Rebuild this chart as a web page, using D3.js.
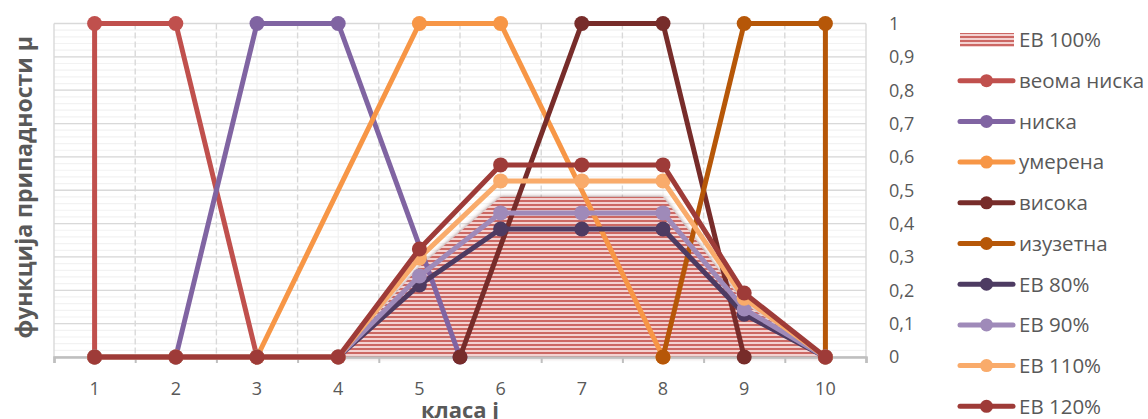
<!DOCTYPE html>
<html>
<head>
<meta charset="utf-8">
<script src="https://cdn.jsdelivr.net/npm/d3@7"></script>
<style>
  body { margin: 0; background: #fff; }
  svg text { font-family: "Open Sans", sans-serif; fill: #595959; }
</style>
</head>
<body>
<div id="chart"></div>
<script>
// classes on the x axis
var classes = [1, 2, 3, 4, 5, 6, 7, 8, 9, 10];
var xTickLabels = ["1", "2", "3", "4", "5", "6", "7", "8", "9", "10"];
var yTickLabels = ["0", "0,1", "0,2", "0,3", "0,4", "0,5", "0,6", "0,7", "0,8", "0,9", "1"];

// expected values (EB) for every class
var ev100 = [0, 0, 0, 0, 0.27, 0.48, 0.48, 0.48, 0.16, 0];
var ev80 = [0, 0, 0, 0, 0.216, 0.384, 0.384, 0.384, 0.128, 0];
var ev90 = [0, 0, 0, 0, 0.243, 0.432, 0.432, 0.432, 0.144, 0];
var ev110 = [0, 0, 0, 0, 0.297, 0.528, 0.528, 0.528, 0.176, 0];
var ev120 = [0, 0, 0, 0, 0.324, 0.576, 0.576, 0.576, 0.192, 0];

// membership functions (x, mu)
var veomaNiskaX = [1, 1, 2, 3];
var veomaNiskaY = [0, 1, 1, 0];
var niskaX = [2, 3, 4, 5.5];
var niskaY = [0, 1, 1, 0];
var umerenaX = [3, 5, 6, 8];
var umerenaY = [0, 1, 1, 0];
var visokaX = [5.5, 7, 8, 9];
var visokaY = [0, 1, 1, 0];
var izuzetnaX = [8, 9, 10, 10];
var izuzetnaY = [0, 1, 1, 0];

var width = 1148, height = 419;
var plot = { left: 54, right: 866, top: 23.5, bottom: 357 };

var svg = d3.select("#chart").append("svg")
  .attr("width", width)
  .attr("height", height);

var defs = svg.append("defs");
var pat = defs.append("pattern")
  .attr("id", "stripes")
  .attr("patternUnits", "userSpaceOnUse")
  .attr("width", 8)
  .attr("height", 4);
pat.append("rect").attr("width", 8).attr("height", 4).attr("fill", "#F3D2D1");
pat.append("rect").attr("width", 8).attr("height", 2).attr("fill", "#CC6764");

var shadow = defs.append("filter").attr("id", "shade")
  .attr("x", "-10%").attr("y", "-10%").attr("width", "120%").attr("height", "120%");
shadow.append("feDropShadow")
  .attr("dx", 0).attr("dy", 0).attr("stdDeviation", 2)
  .attr("flood-color", "#6b3030").attr("flood-opacity", 0.7);

var x = d3.scaleLinear().domain([0.5, 10.5]).range([plot.left, plot.right]);
var y = d3.scaleLinear().domain([0, 1]).range([plot.bottom, plot.top]);

// gridlines
var grid = svg.append("g");
grid.selectAll(".hminor")
  .data(d3.range(0, 51).map(function (i) { return i / 50; }))
  .enter().append("line")
  .attr("x1", plot.left).attr("x2", plot.right)
  .attr("y1", function (d) { return y(d); })
  .attr("y2", function (d) { return y(d); })
  .attr("stroke", "#F2F2F2").attr("stroke-width", 1.2);
grid.selectAll(".vminor")
  .data(classes)
  .enter().append("line")
  .attr("x1", function (d) { return x(d); })
  .attr("x2", function (d) { return x(d); })
  .attr("y1", plot.top).attr("y2", plot.bottom)
  .attr("stroke", "#F2F2F2").attr("stroke-width", 1.2);
grid.selectAll(".hmajor")
  .data(d3.range(0, 11).map(function (i) { return i / 10; }))
  .enter().append("line")
  .attr("x1", plot.left).attr("x2", plot.right)
  .attr("y1", function (d) { return y(d); })
  .attr("y2", function (d) { return y(d); })
  .attr("stroke", "#D9D9D9").attr("stroke-width", 1.3);
var halfTicks = d3.range(0, 11).map(function (i) { return i + 0.5; });
grid.selectAll(".vmajor")
  .data(halfTicks)
  .enter().append("line")
  .attr("x1", function (d) { return x(d); })
  .attr("x2", function (d) { return x(d); })
  .attr("y1", plot.top).attr("y2", plot.bottom)
  .attr("stroke", "#D9D9D9").attr("stroke-width", 1.4)
  .attr("stroke-dasharray", function (d) { return (d == 0.5 || d == 10.5) ? null : "6,3"; });

// EB 100% area
var area = d3.area()
  .x(function (d) { return x(d[0]); })
  .y0(y(0))
  .y1(function (d) { return y(d[1]); });
svg.append("path")
  .datum(d3.zip(classes, ev100))
  .attr("d", area)
  .attr("fill", "url(#stripes)")
  .attr("filter", "url(#shade)");

// x axis
var xAxis = svg.append("g")
  .attr("transform", "translate(0," + plot.bottom + ")")
  .call(d3.axisBottom(x).tickValues(halfTicks).tickSize(6).tickFormat(""));
xAxis.select(".domain").attr("stroke", "#BFBFBF").attr("stroke-width", 2.5);
xAxis.selectAll(".tick line").attr("stroke", "#BFBFBF").attr("stroke-width", 2);

svg.append("g").selectAll("text")
  .data(classes)
  .enter().append("text")
  .attr("x", function (d) { return x(d); })
  .attr("y", 395)
  .attr("text-anchor", "middle")
  .style("font-size", "18px")
  .text(function (d, i) { return xTickLabels[i]; });

// right y axis labels
svg.append("g").selectAll("text")
  .data(yTickLabels)
  .enter().append("text")
  .attr("x", 889)
  .attr("y", function (d, i) { return y(i / 10); })
  .attr("dy", "0.36em")
  .style("font-size", "18px")
  .text(function (d) { return d; });

// axis titles
svg.append("text")
  .attr("transform", "translate(32," + ((plot.top + plot.bottom) / 2 - 3) + ") rotate(-90)")
  .attr("text-anchor", "middle")
  .style("font-size", "23px")
  .style("font-weight", "bold")
  .text("функција припадности μ");

svg.append("text")
  .attr("x", (plot.left + plot.right) / 2)
  .attr("y", 418)
  .attr("text-anchor", "middle")
  .style("font-size", "22px")
  .style("font-weight", "bold")
  .text("класа j");

var series = [
  { name: "веома ниска", xs: veomaNiskaX, ys: veomaNiskaY, color: "#C0504D" },
  { name: "ниска", xs: niskaX, ys: niskaY, color: "#8064A2" },
  { name: "умерена", xs: umerenaX, ys: umerenaY, color: "#F79646" },
  { name: "висока", xs: visokaX, ys: visokaY, color: "#772C2A" },
  { name: "изузетна", xs: izuzetnaX, ys: izuzetnaY, color: "#B65708" },
  { name: "ЕВ 80%", xs: classes, ys: ev80, color: "#4D3B62" },
  { name: "ЕВ 90%", xs: classes, ys: ev90, color: "#9F8AB9" },
  { name: "ЕВ 110%", xs: classes, ys: ev110, color: "#F9AB6B" },
  { name: "ЕВ 120%", xs: classes, ys: ev120, color: "#9E3B38" }
];

var line = d3.line()
  .x(function (d) { return x(d[0]); })
  .y(function (d) { return y(d[1]); });

series.forEach(function (s) {
  var pts = d3.zip(s.xs, s.ys);
  var g = svg.append("g");
  g.append("path")
    .datum(pts)
    .attr("d", line)
    .attr("fill", "none")
    .attr("stroke", s.color)
    .attr("stroke-width", 5)
    .attr("stroke-linejoin", "round")
    .attr("stroke-linecap", "round");
  g.selectAll("circle")
    .data(pts)
    .enter().append("circle")
    .attr("cx", function (d) { return x(d[0]); })
    .attr("cy", function (d) { return y(d[1]); })
    .attr("r", 7.5)
    .attr("fill", s.color);
});

// legend
var legend = svg.append("g");
var rowY = function (i) { return 40 + i * 40.7; };
legend.append("rect")
  .attr("x", 960).attr("y", rowY(0) - 7)
  .attr("width", 54).attr("height", 14)
  .attr("fill", "url(#stripes)");
legend.append("text")
  .attr("x", 1019).attr("y", rowY(0))
  .attr("dy", "0.36em")
  .style("font-size", "20.5px")
  .text("ЕВ 100%");

series.forEach(function (s, i) {
  var ly = rowY(i + 1);
  legend.append("line")
    .attr("x1", 960).attr("x2", 1013)
    .attr("y1", ly).attr("y2", ly)
    .attr("stroke", s.color)
    .attr("stroke-width", 5)
    .attr("stroke-linecap", "round");
  legend.append("circle")
    .attr("cx", 986.5).attr("cy", ly)
    .attr("r", 6.5)
    .attr("fill", s.color);
  legend.append("text")
    .attr("x", 1019).attr("y", ly)
    .attr("dy", "0.36em")
    .style("font-size", "20.5px")
    .text(s.name);
});
</script>
</body>
</html>
